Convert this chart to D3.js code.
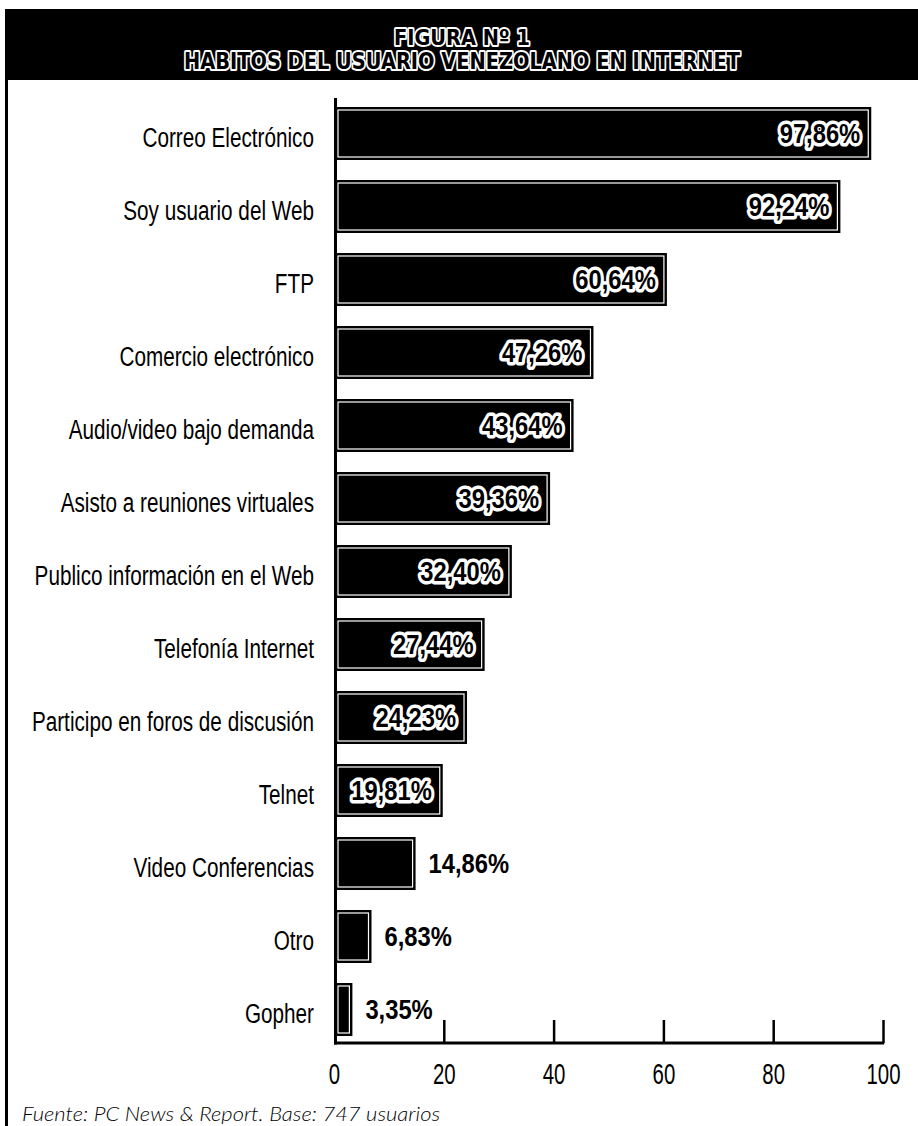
<!DOCTYPE html>
<html>
<head>
<meta charset="utf-8">
<script src="https://cdn.jsdelivr.net/npm/d3@7/dist/d3.min.js"></script>
<style>
  html, body { margin: 0; padding: 0; background: #fff; }
  svg { display: block; }
</style>
</head>
<body>
<svg id="chart" width="918" height="1126"></svg>
<script>
// Hábitos del usuario venezolano en Internet (porcentaje de usuarios)
const titleLines = ["FIGURA Nº 1", "HABITOS DEL USUARIO VENEZOLANO EN INTERNET"];
const categories = [
  "Correo Electrónico",
  "Soy usuario del Web",
  "FTP",
  "Comercio electrónico",
  "Audio/video bajo demanda",
  "Asisto a reuniones virtuales",
  "Publico información en el Web",
  "Telefonía Internet",
  "Participo en foros de discusión",
  "Telnet",
  "Video Conferencias",
  "Otro",
  "Gopher"
];
const values = [97.86, 92.24, 60.64, 47.26, 43.64, 39.36, 32.40, 27.44, 24.23, 19.81, 14.86, 6.83, 3.35];
const tickValues = [0, 20, 40, 60, 80, 100];
const footnote = "Fuente: PC News & Report. Base: 747 usuarios";

const W = 918, H = 1126;
const svg = d3.select("#chart");
const SANS = "'Liberation Sans', Arial, Helvetica, sans-serif";

// white page with a frame on the left
svg.append("rect").attr("width", W).attr("height", H).attr("fill", "#fff");
svg.append("line")
  .attr("x1", 6.5).attr("x2", 6.5).attr("y1", 9).attr("y2", H)
  .attr("stroke", "#000").attr("stroke-width", 3);

// title band: heavy black letters outlined in white
svg.append("rect").attr("x", 5).attr("y", 9).attr("width", W - 5).attr("height", 71).attr("fill", "#000");
const titleSpec = [
  { y: 45, size: 22, len: 136 },
  { y: 69, size: 23, len: 556 }
];
titleLines.forEach((t, i) => {
  svg.append("text")
    .attr("x", 462).attr("y", titleSpec[i].y)
    .attr("text-anchor", "middle")
    .attr("font-family", "'DejaVu Sans', " + SANS).attr("font-weight", "bold")
    .attr("font-size", titleSpec[i].size)
    .attr("textLength", titleSpec[i].len).attr("lengthAdjust", "spacingAndGlyphs")
    .attr("fill", "#000").attr("stroke", "#fff").attr("stroke-width", 4)
    .attr("stroke-linejoin", "round").attr("paint-order", "stroke")
    .text(t);
});

// scales
const x = d3.scaleLinear().domain([0, 100]).range([334, 883]);
const y = d3.scaleBand().domain(categories).range([97, 1046])
  .paddingInner(20 / 73).paddingOuter(10 / 73);

const fmt = v => d3.format(".2f")(v).replace(".", ",") + "%";

// bars: black block with a thin white inner rule
const rows = svg.append("g").selectAll("g.row")
  .data(categories.map((c, i) => ({ c, v: values[i] })))
  .join("g").attr("class", "row");

rows.append("rect")
  .attr("x", x(0)).attr("y", d => y(d.c))
  .attr("width", d => x(d.v) - x(0)).attr("height", y.bandwidth())
  .attr("fill", "#000");
rows.append("rect")
  .attr("x", x(0) + 4).attr("y", d => y(d.c) + 3)
  .attr("width", d => Math.max(0, x(d.v) - x(0) - 7)).attr("height", y.bandwidth() - 6)
  .attr("fill", "none").attr("stroke", "#fff").attr("stroke-width", 1.2);

// category labels (condensed)
rows.append("text")
  .attr("transform", d => `translate(314,${y(d.c) + y.bandwidth() / 2 + 13}) scale(0.74,1)`)
  .attr("text-anchor", "end")
  .attr("font-family", SANS).attr("font-size", 28)
  .attr("fill", "#000")
  .text(d => d.c);

// value labels: inside the bar with a white halo, or just past its end
const VSCALE = 0.88;
rows.append("text")
  .attr("class", "val")
  .attr("font-family", SANS).attr("font-weight", "bold").attr("font-size", 27)
  .attr("fill", "#000")
  .text(d => fmt(d.v))
  .each(function (d) {
    const t = d3.select(this);
    const w = this.getComputedTextLength() * VSCALE;
    const barW = x(d.v) - x(0);
    const cy = y(d.c) + y.bandwidth() / 2 + 9.5;
    if (barW >= w + 18) {
      t.attr("text-anchor", "end")
        .attr("transform", `translate(${x(d.v) - 11},${cy}) scale(${VSCALE},1)`)
        .attr("stroke", "#fff").attr("stroke-width", 7)
        .attr("stroke-linejoin", "round").attr("paint-order", "stroke");
    } else {
      t.attr("text-anchor", "start")
        .attr("transform", `translate(${x(d.v) + 13},${cy}) scale(${VSCALE},1)`);
    }
  });

// axes
const axisY = 1043;
svg.append("line")
  .attr("x1", x(0) + 1.5).attr("x2", x(0) + 1.5).attr("y1", 98).attr("y2", axisY + 1.5)
  .attr("stroke", "#000").attr("stroke-width", 3);

const gx = svg.append("g").attr("transform", `translate(0,${axisY})`)
  .call(d3.axisBottom(x).tickValues(tickValues).tickSizeInner(0).tickSizeOuter(0).tickFormat(d3.format("d")));
gx.select(".domain").remove();
gx.selectAll(".tick line")
  .attr("y1", 0).attr("y2", d => d === 0 ? 0 : -23)
  .attr("stroke", "#000").attr("stroke-width", 2.5);
gx.selectAll(".tick text")
  .attr("y", null).attr("dy", null)
  .attr("transform", "translate(0,41) scale(0.68,1)")
  .attr("font-family", SANS).attr("font-size", 30).attr("fill", "#000");
svg.append("line")
  .attr("x1", x(0)).attr("x2", x(100) + 1.2).attr("y1", axisY).attr("y2", axisY)
  .attr("stroke", "#000").attr("stroke-width", 3);

// source note
svg.append("text")
  .attr("x", 22).attr("y", 1121)
  .attr("font-family", "Lato, 'Open Sans', sans-serif").attr("font-style", "italic")
  .attr("font-weight", 300)
  .attr("font-size", 19)
  .attr("textLength", 418).attr("lengthAdjust", "spacingAndGlyphs")
  .attr("fill", "#000")
  .text(footnote);
</script>
</body>
</html>
